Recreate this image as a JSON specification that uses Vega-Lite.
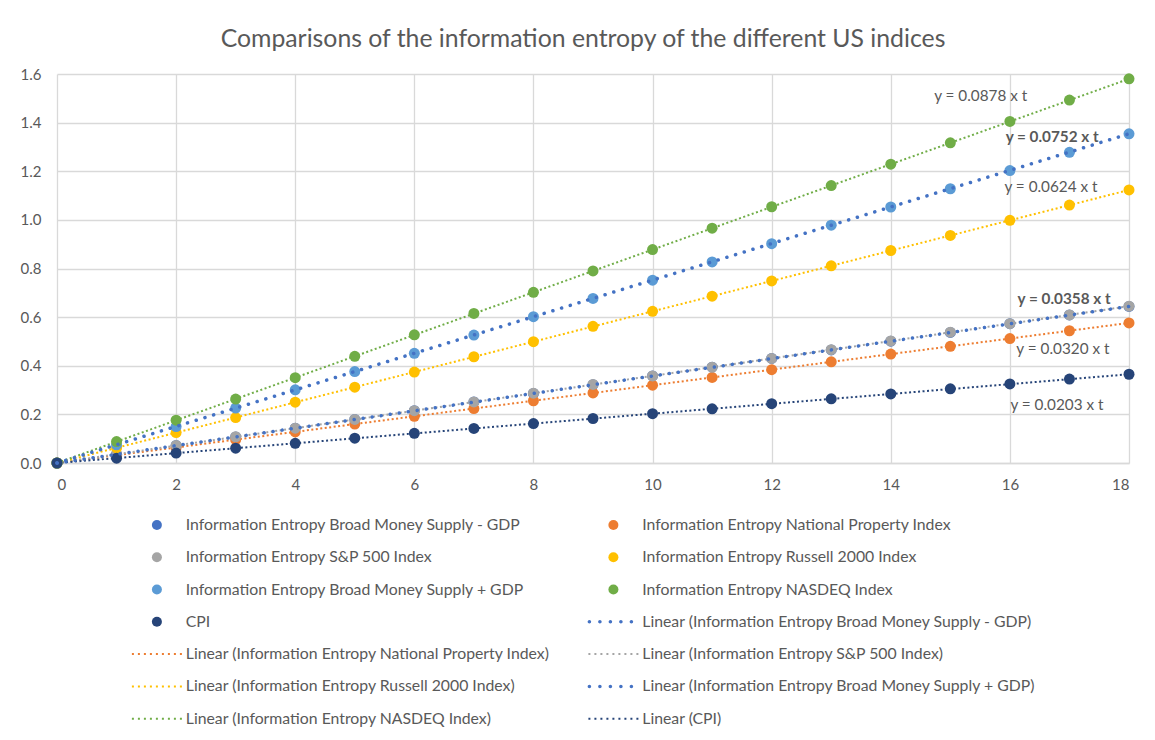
{
  "$schema": "https://vega.github.io/schema/vega-lite/v6.json",
  "width": 1072,
  "height": 389,
  "padding": {"left": 20, "top": 27, "right": 5, "bottom": 5},
  "background": "white",
  "title": {"text": "Comparisons of the information entropy of the different US indices", "fontSize": 24.8, "font": "Lato", "fontWeight": "normal", "color": "#595959", "anchor": "middle", "offset": 15, "dx": -10},
  "config": {
    "view": {"stroke": null},
    "font": "Lato",
    "axis": {"labelFont": "Lato", "labelFontSize": 15, "labelColor": "#595959", "gridColor": "#D9D9D9", "gridWidth": 1.3, "tickSize": 0, "title": null}
  },
  "datasets": {
    "pts": [
      {"series": "Information Entropy Broad Money Supply - GDP", "t": 0, "v": 0},
      {"series": "Information Entropy Broad Money Supply - GDP", "t": 1, "v": 0.036},
      {"series": "Information Entropy Broad Money Supply - GDP", "t": 2, "v": 0.072},
      {"series": "Information Entropy Broad Money Supply - GDP", "t": 3, "v": 0.107},
      {"series": "Information Entropy Broad Money Supply - GDP", "t": 4, "v": 0.143},
      {"series": "Information Entropy Broad Money Supply - GDP", "t": 5, "v": 0.179},
      {"series": "Information Entropy Broad Money Supply - GDP", "t": 6, "v": 0.215},
      {"series": "Information Entropy Broad Money Supply - GDP", "t": 7, "v": 0.251},
      {"series": "Information Entropy Broad Money Supply - GDP", "t": 8, "v": 0.286},
      {"series": "Information Entropy Broad Money Supply - GDP", "t": 9, "v": 0.322},
      {"series": "Information Entropy Broad Money Supply - GDP", "t": 10, "v": 0.358},
      {"series": "Information Entropy Broad Money Supply - GDP", "t": 11, "v": 0.394},
      {"series": "Information Entropy Broad Money Supply - GDP", "t": 12, "v": 0.43},
      {"series": "Information Entropy Broad Money Supply - GDP", "t": 13, "v": 0.465},
      {"series": "Information Entropy Broad Money Supply - GDP", "t": 14, "v": 0.501},
      {"series": "Information Entropy Broad Money Supply - GDP", "t": 15, "v": 0.537},
      {"series": "Information Entropy Broad Money Supply - GDP", "t": 16, "v": 0.573},
      {"series": "Information Entropy Broad Money Supply - GDP", "t": 17, "v": 0.609},
      {"series": "Information Entropy Broad Money Supply - GDP", "t": 18, "v": 0.644},
      {"series": "Information Entropy National Property Index", "t": 0, "v": 0},
      {"series": "Information Entropy National Property Index", "t": 1, "v": 0.032},
      {"series": "Information Entropy National Property Index", "t": 2, "v": 0.064},
      {"series": "Information Entropy National Property Index", "t": 3, "v": 0.096},
      {"series": "Information Entropy National Property Index", "t": 4, "v": 0.128},
      {"series": "Information Entropy National Property Index", "t": 5, "v": 0.16},
      {"series": "Information Entropy National Property Index", "t": 6, "v": 0.192},
      {"series": "Information Entropy National Property Index", "t": 7, "v": 0.224},
      {"series": "Information Entropy National Property Index", "t": 8, "v": 0.256},
      {"series": "Information Entropy National Property Index", "t": 9, "v": 0.288},
      {"series": "Information Entropy National Property Index", "t": 10, "v": 0.32},
      {"series": "Information Entropy National Property Index", "t": 11, "v": 0.352},
      {"series": "Information Entropy National Property Index", "t": 12, "v": 0.384},
      {"series": "Information Entropy National Property Index", "t": 13, "v": 0.416},
      {"series": "Information Entropy National Property Index", "t": 14, "v": 0.448},
      {"series": "Information Entropy National Property Index", "t": 15, "v": 0.48},
      {"series": "Information Entropy National Property Index", "t": 16, "v": 0.512},
      {"series": "Information Entropy National Property Index", "t": 17, "v": 0.544},
      {"series": "Information Entropy National Property Index", "t": 18, "v": 0.576},
      {"series": "Information Entropy S&P 500 Index", "t": 0, "v": 0},
      {"series": "Information Entropy S&P 500 Index", "t": 1, "v": 0.036},
      {"series": "Information Entropy S&P 500 Index", "t": 2, "v": 0.072},
      {"series": "Information Entropy S&P 500 Index", "t": 3, "v": 0.108},
      {"series": "Information Entropy S&P 500 Index", "t": 4, "v": 0.143},
      {"series": "Information Entropy S&P 500 Index", "t": 5, "v": 0.179},
      {"series": "Information Entropy S&P 500 Index", "t": 6, "v": 0.215},
      {"series": "Information Entropy S&P 500 Index", "t": 7, "v": 0.251},
      {"series": "Information Entropy S&P 500 Index", "t": 8, "v": 0.287},
      {"series": "Information Entropy S&P 500 Index", "t": 9, "v": 0.323},
      {"series": "Information Entropy S&P 500 Index", "t": 10, "v": 0.358},
      {"series": "Information Entropy S&P 500 Index", "t": 11, "v": 0.394},
      {"series": "Information Entropy S&P 500 Index", "t": 12, "v": 0.43},
      {"series": "Information Entropy S&P 500 Index", "t": 13, "v": 0.466},
      {"series": "Information Entropy S&P 500 Index", "t": 14, "v": 0.502},
      {"series": "Information Entropy S&P 500 Index", "t": 15, "v": 0.538},
      {"series": "Information Entropy S&P 500 Index", "t": 16, "v": 0.573},
      {"series": "Information Entropy S&P 500 Index", "t": 17, "v": 0.609},
      {"series": "Information Entropy S&P 500 Index", "t": 18, "v": 0.645},
      {"series": "Information Entropy Russell 2000 Index", "t": 0, "v": 0},
      {"series": "Information Entropy Russell 2000 Index", "t": 1, "v": 0.062},
      {"series": "Information Entropy Russell 2000 Index", "t": 2, "v": 0.125},
      {"series": "Information Entropy Russell 2000 Index", "t": 3, "v": 0.187},
      {"series": "Information Entropy Russell 2000 Index", "t": 4, "v": 0.25},
      {"series": "Information Entropy Russell 2000 Index", "t": 5, "v": 0.312},
      {"series": "Information Entropy Russell 2000 Index", "t": 6, "v": 0.374},
      {"series": "Information Entropy Russell 2000 Index", "t": 7, "v": 0.437},
      {"series": "Information Entropy Russell 2000 Index", "t": 8, "v": 0.499},
      {"series": "Information Entropy Russell 2000 Index", "t": 9, "v": 0.562},
      {"series": "Information Entropy Russell 2000 Index", "t": 10, "v": 0.624},
      {"series": "Information Entropy Russell 2000 Index", "t": 11, "v": 0.686},
      {"series": "Information Entropy Russell 2000 Index", "t": 12, "v": 0.749},
      {"series": "Information Entropy Russell 2000 Index", "t": 13, "v": 0.811},
      {"series": "Information Entropy Russell 2000 Index", "t": 14, "v": 0.874},
      {"series": "Information Entropy Russell 2000 Index", "t": 15, "v": 0.936},
      {"series": "Information Entropy Russell 2000 Index", "t": 16, "v": 0.998},
      {"series": "Information Entropy Russell 2000 Index", "t": 17, "v": 1.061},
      {"series": "Information Entropy Russell 2000 Index", "t": 18, "v": 1.123},
      {"series": "Information Entropy Broad Money Supply + GDP", "t": 0, "v": 0},
      {"series": "Information Entropy Broad Money Supply + GDP", "t": 1, "v": 0.075},
      {"series": "Information Entropy Broad Money Supply + GDP", "t": 2, "v": 0.15},
      {"series": "Information Entropy Broad Money Supply + GDP", "t": 3, "v": 0.226},
      {"series": "Information Entropy Broad Money Supply + GDP", "t": 4, "v": 0.301},
      {"series": "Information Entropy Broad Money Supply + GDP", "t": 5, "v": 0.376},
      {"series": "Information Entropy Broad Money Supply + GDP", "t": 6, "v": 0.451},
      {"series": "Information Entropy Broad Money Supply + GDP", "t": 7, "v": 0.526},
      {"series": "Information Entropy Broad Money Supply + GDP", "t": 8, "v": 0.602},
      {"series": "Information Entropy Broad Money Supply + GDP", "t": 9, "v": 0.677},
      {"series": "Information Entropy Broad Money Supply + GDP", "t": 10, "v": 0.752},
      {"series": "Information Entropy Broad Money Supply + GDP", "t": 11, "v": 0.827},
      {"series": "Information Entropy Broad Money Supply + GDP", "t": 12, "v": 0.902},
      {"series": "Information Entropy Broad Money Supply + GDP", "t": 13, "v": 0.978},
      {"series": "Information Entropy Broad Money Supply + GDP", "t": 14, "v": 1.053},
      {"series": "Information Entropy Broad Money Supply + GDP", "t": 15, "v": 1.128},
      {"series": "Information Entropy Broad Money Supply + GDP", "t": 16, "v": 1.203},
      {"series": "Information Entropy Broad Money Supply + GDP", "t": 17, "v": 1.278},
      {"series": "Information Entropy Broad Money Supply + GDP", "t": 18, "v": 1.354},
      {"series": "Information Entropy NASDEQ Index", "t": 0, "v": 0},
      {"series": "Information Entropy NASDEQ Index", "t": 1, "v": 0.088},
      {"series": "Information Entropy NASDEQ Index", "t": 2, "v": 0.176},
      {"series": "Information Entropy NASDEQ Index", "t": 3, "v": 0.263},
      {"series": "Information Entropy NASDEQ Index", "t": 4, "v": 0.351},
      {"series": "Information Entropy NASDEQ Index", "t": 5, "v": 0.439},
      {"series": "Information Entropy NASDEQ Index", "t": 6, "v": 0.527},
      {"series": "Information Entropy NASDEQ Index", "t": 7, "v": 0.615},
      {"series": "Information Entropy NASDEQ Index", "t": 8, "v": 0.702},
      {"series": "Information Entropy NASDEQ Index", "t": 9, "v": 0.79},
      {"series": "Information Entropy NASDEQ Index", "t": 10, "v": 0.878},
      {"series": "Information Entropy NASDEQ Index", "t": 11, "v": 0.966},
      {"series": "Information Entropy NASDEQ Index", "t": 12, "v": 1.054},
      {"series": "Information Entropy NASDEQ Index", "t": 13, "v": 1.141},
      {"series": "Information Entropy NASDEQ Index", "t": 14, "v": 1.229},
      {"series": "Information Entropy NASDEQ Index", "t": 15, "v": 1.317},
      {"series": "Information Entropy NASDEQ Index", "t": 16, "v": 1.405},
      {"series": "Information Entropy NASDEQ Index", "t": 17, "v": 1.493},
      {"series": "Information Entropy NASDEQ Index", "t": 18, "v": 1.58},
      {"series": "CPI", "t": 0, "v": 0},
      {"series": "CPI", "t": 1, "v": 0.02},
      {"series": "CPI", "t": 2, "v": 0.041},
      {"series": "CPI", "t": 3, "v": 0.061},
      {"series": "CPI", "t": 4, "v": 0.081},
      {"series": "CPI", "t": 5, "v": 0.102},
      {"series": "CPI", "t": 6, "v": 0.122},
      {"series": "CPI", "t": 7, "v": 0.142},
      {"series": "CPI", "t": 8, "v": 0.162},
      {"series": "CPI", "t": 9, "v": 0.183},
      {"series": "CPI", "t": 10, "v": 0.203},
      {"series": "CPI", "t": 11, "v": 0.223},
      {"series": "CPI", "t": 12, "v": 0.244},
      {"series": "CPI", "t": 13, "v": 0.264},
      {"series": "CPI", "t": 14, "v": 0.284},
      {"series": "CPI", "t": 15, "v": 0.305},
      {"series": "CPI", "t": 16, "v": 0.325},
      {"series": "CPI", "t": 17, "v": 0.345},
      {"series": "CPI", "t": 18, "v": 0.365}
    ],
    "trendSmall": [
      {"trend": "Linear (Information Entropy National Property Index)", "t": 0, "v": 0},
      {"trend": "Linear (Information Entropy National Property Index)", "t": 18, "v": 0.576},
      {"trend": "Linear (Information Entropy S&P 500 Index)", "t": 0, "v": 0},
      {"trend": "Linear (Information Entropy S&P 500 Index)", "t": 18, "v": 0.645},
      {"trend": "Linear (Information Entropy Russell 2000 Index)", "t": 0, "v": 0},
      {"trend": "Linear (Information Entropy Russell 2000 Index)", "t": 18, "v": 1.123},
      {"trend": "Linear (Information Entropy NASDEQ Index)", "t": 0, "v": 0},
      {"trend": "Linear (Information Entropy NASDEQ Index)", "t": 18, "v": 1.58},
      {"trend": "Linear (CPI)", "t": 0, "v": 0},
      {"trend": "Linear (CPI)", "t": 18, "v": 0.365}
    ],
    "trendBig": [
      {"trend": "Linear (Information Entropy Broad Money Supply - GDP)", "t": 0, "v": 0},
      {"trend": "Linear (Information Entropy Broad Money Supply - GDP)", "t": 18, "v": 0.644},
      {"trend": "Linear (Information Entropy Broad Money Supply + GDP)", "t": 0, "v": 0},
      {"trend": "Linear (Information Entropy Broad Money Supply + GDP)", "t": 18, "v": 1.354}
    ],
    "labelsNormal": [
      {"label": "y = 0.0878 x t", "t": 15.51, "v": 1.51},
      {"label": "y = 0.0624 x t", "t": 16.69, "v": 1.135},
      {"label": "y = 0.0320 x t", "t": 16.89, "v": 0.469},
      {"label": "y = 0.0203 x t", "t": 16.79, "v": 0.239}
    ],
    "labelsBold": [
      {"label": "y = 0.0752 x t", "t": 16.71, "v": 1.341},
      {"label": "y = 0.0358 x t", "t": 16.91, "v": 0.675}
    ]
  },
  "layer": [
    {
      "data": {"name": "trendSmall"},
      "mark": {"type": "line", "strokeWidth": 2, "strokeDash": [2, 2.5], "strokeCap": "butt"},
      "encoding": {
        "x": {"field": "t", "type": "quantitative", "scale": {"domain": [0, 18], "nice": false}, "axis": {"values": [0, 2, 4, 6, 8, 10, 12, 14, 16, 18], "format": "d", "grid": true, "domain": true, "domainColor": "#D9D9D9", "domainWidth": 1.3, "labelPadding": 14}},
        "y": {"field": "v", "type": "quantitative", "scale": {"domain": [0, 1.6], "nice": false}, "axis": {"values": [0, 0.2, 0.4, 0.6, 0.8, 1.0, 1.2, 1.4, 1.6], "format": ".1f", "grid": true, "domain": false, "labelPadding": 16}},
        "stroke": {"field": "trend", "type": "nominal", "legend": null, "scale": {"domain": ["Linear (Information Entropy Broad Money Supply - GDP)", "Linear (Information Entropy National Property Index)", "Linear (Information Entropy S&P 500 Index)", "Linear (Information Entropy Russell 2000 Index)", "Linear (Information Entropy Broad Money Supply + GDP)", "Linear (Information Entropy NASDEQ Index)", "Linear (CPI)"], "range": ["#4472C4", "#ED7D31", "#A5A5A5", "#FFC000", "#4472C4", "#70AD47", "#264478"]}},
        "detail": {"field": "trend"}
      }
    },
    {
      "data": {"name": "pts"},
      "mark": {"type": "point", "filled": true, "opacity": 1, "size": 121, "strokeWidth": 0},
      "encoding": {
        "x": {"field": "t", "type": "quantitative"},
        "y": {"field": "v", "type": "quantitative"},
        "color": {"field": "series", "type": "nominal",
          "scale": {"domain": ["Information Entropy Broad Money Supply - GDP", "Information Entropy S&P 500 Index", "Information Entropy Broad Money Supply + GDP", "CPI", "Linear (Information Entropy National Property Index)", "Linear (Information Entropy Russell 2000 Index)", "Linear (Information Entropy NASDEQ Index)", "Information Entropy National Property Index", "Information Entropy Russell 2000 Index", "Information Entropy NASDEQ Index", "Linear (Information Entropy Broad Money Supply - GDP)", "Linear (Information Entropy S&P 500 Index)", "Linear (Information Entropy Broad Money Supply + GDP)", "Linear (CPI)"],
            "range": ["#4472C4", "#A5A5A5", "#5B9BD5", "#264478", "#ED7D31", "#FFC000", "#70AD47", "#ED7D31", "#FFC000", "#70AD47", "#4472C4", "#A5A5A5", "#4472C4", "#264478"]},
          "legend": {"title": null, "orient": "none", "legendX": 92, "legendY": 443, "columns": 2, "columnPadding": 37.5, "rowPadding": 15.3, "labelOffset": 21, "symbolSize": 100, "symbolStrokeWidth": 0, "labelFont": "Lato", "labelFontSize": 15.8, "labelColor": "#595959", "labelLimit": 600, "padding": 0}},
        "shape": {"field": "series", "type": "nominal",
          "scale": {"domain": ["Information Entropy Broad Money Supply - GDP", "Information Entropy S&P 500 Index", "Information Entropy Broad Money Supply + GDP", "CPI", "Linear (Information Entropy National Property Index)", "Linear (Information Entropy Russell 2000 Index)", "Linear (Information Entropy NASDEQ Index)", "Information Entropy National Property Index", "Information Entropy Russell 2000 Index", "Information Entropy NASDEQ Index", "Linear (Information Entropy Broad Money Supply - GDP)", "Linear (Information Entropy S&P 500 Index)", "Linear (Information Entropy Broad Money Supply + GDP)", "Linear (CPI)"],
            "range": ["circle", "circle", "circle", "circle",
              "M-5,-0.2h0.4v0.4h-0.4zM-3.8,-0.2h0.4v0.4h-0.4zM-2.6,-0.2h0.4v0.4h-0.4zM-1.4,-0.2h0.4v0.4h-0.4zM-0.2,-0.2h0.4v0.4h-0.4zM1,-0.2h0.4v0.4h-0.4zM2.2,-0.2h0.4v0.4h-0.4zM3.4,-0.2h0.4v0.4h-0.4zM4.6,-0.2h0.4v0.4h-0.4z",
              "M-5,-0.2h0.4v0.4h-0.4zM-3.8,-0.2h0.4v0.4h-0.4zM-2.6,-0.2h0.4v0.4h-0.4zM-1.4,-0.2h0.4v0.4h-0.4zM-0.2,-0.2h0.4v0.4h-0.4zM1,-0.2h0.4v0.4h-0.4zM2.2,-0.2h0.4v0.4h-0.4zM3.4,-0.2h0.4v0.4h-0.4zM4.6,-0.2h0.4v0.4h-0.4z",
              "M-5,-0.2h0.4v0.4h-0.4zM-3.8,-0.2h0.4v0.4h-0.4zM-2.6,-0.2h0.4v0.4h-0.4zM-1.4,-0.2h0.4v0.4h-0.4zM-0.2,-0.2h0.4v0.4h-0.4zM1,-0.2h0.4v0.4h-0.4zM2.2,-0.2h0.4v0.4h-0.4zM3.4,-0.2h0.4v0.4h-0.4zM4.6,-0.2h0.4v0.4h-0.4z",
              "circle", "circle", "circle",
              "M-5.15,0a0.35,0.35 0 1,0 0.7,0a0.35,0.35 0 1,0 -0.7,0zM-3.05,0a0.35,0.35 0 1,0 0.7,0a0.35,0.35 0 1,0 -0.7,0zM-0.95,0a0.35,0.35 0 1,0 0.7,0a0.35,0.35 0 1,0 -0.7,0zM1.15,0a0.35,0.35 0 1,0 0.7,0a0.35,0.35 0 1,0 -0.7,0zM3.25,0a0.35,0.35 0 1,0 0.7,0a0.35,0.35 0 1,0 -0.7,0z",
              "M-5,-0.2h0.4v0.4h-0.4zM-3.8,-0.2h0.4v0.4h-0.4zM-2.6,-0.2h0.4v0.4h-0.4zM-1.4,-0.2h0.4v0.4h-0.4zM-0.2,-0.2h0.4v0.4h-0.4zM1,-0.2h0.4v0.4h-0.4zM2.2,-0.2h0.4v0.4h-0.4zM3.4,-0.2h0.4v0.4h-0.4zM4.6,-0.2h0.4v0.4h-0.4z",
              "M-5.15,0a0.35,0.35 0 1,0 0.7,0a0.35,0.35 0 1,0 -0.7,0zM-3.05,0a0.35,0.35 0 1,0 0.7,0a0.35,0.35 0 1,0 -0.7,0zM-0.95,0a0.35,0.35 0 1,0 0.7,0a0.35,0.35 0 1,0 -0.7,0zM1.15,0a0.35,0.35 0 1,0 0.7,0a0.35,0.35 0 1,0 -0.7,0zM3.25,0a0.35,0.35 0 1,0 0.7,0a0.35,0.35 0 1,0 -0.7,0z",
              "M-5,-0.2h0.4v0.4h-0.4zM-3.8,-0.2h0.4v0.4h-0.4zM-2.6,-0.2h0.4v0.4h-0.4zM-1.4,-0.2h0.4v0.4h-0.4zM-0.2,-0.2h0.4v0.4h-0.4zM1,-0.2h0.4v0.4h-0.4zM2.2,-0.2h0.4v0.4h-0.4zM3.4,-0.2h0.4v0.4h-0.4zM4.6,-0.2h0.4v0.4h-0.4z"]}}
      }
    },
    {
      "data": {"name": "trendBig"},
      "mark": {"type": "line", "strokeWidth": 3.5, "strokeDash": [0.1, 9], "strokeCap": "round"},
      "encoding": {
        "x": {"field": "t", "type": "quantitative"},
        "y": {"field": "v", "type": "quantitative"},
        "stroke": {"field": "trend", "type": "nominal", "legend": null},
        "detail": {"field": "trend"}
      }
    },
    {
      "data": {"name": "labelsNormal"},
      "mark": {"type": "text", "font": "Lato", "fontSize": 15.3, "color": "#595959", "align": "center", "baseline": "middle"},
      "encoding": {
        "x": {"field": "t", "type": "quantitative"},
        "y": {"field": "v", "type": "quantitative"},
        "text": {"field": "label"}
      }
    },
    {
      "data": {"name": "labelsBold"},
      "mark": {"type": "text", "font": "Lato", "fontSize": 15.3, "fontWeight": "bold", "color": "#595959", "align": "center", "baseline": "middle"},
      "encoding": {
        "x": {"field": "t", "type": "quantitative"},
        "y": {"field": "v", "type": "quantitative"},
        "text": {"field": "label"}
      }
    }
  ]
}
